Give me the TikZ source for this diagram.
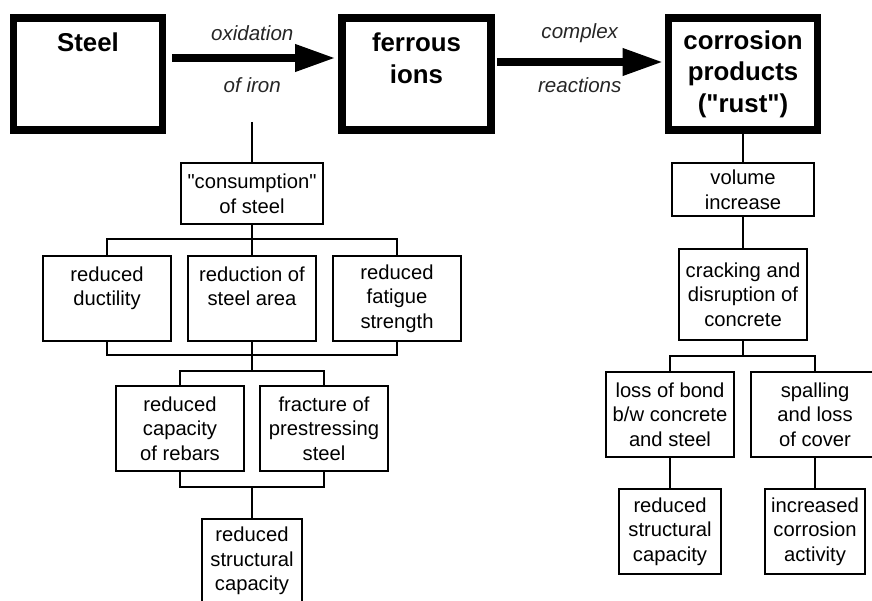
\documentclass[tikz,border=0pt]{standalone}
\usepackage{fontspec}
\setmainfont{Liberation Sans}
\usetikzlibrary{arrows.meta}

\tikzset{
  bigbox/.style={draw, line width=4.5pt, minimum width=2.98cm, minimum height=2.24cm,
    align=center, inner sep=0pt, font=\fontsize{14.7}{18}\selectfont\bfseries},
  smallbox/.style={draw, line width=1.3pt, minimum width=2.55cm, minimum height=1.69cm,
    align=center, inner sep=1pt, font=\fontsize{11.5}{14}\selectfont},
  link/.style={line width=1.3pt},
  bigarrow/.style={line width=4pt, -{Triangle[length=0.8cm,width=0.52cm]}},
  arrowtext/.style={font=\fontsize{11.7}{14}\selectfont\itshape, text=black!85}
}

\begin{document}
\begin{tikzpicture}[x=0.02cm, y=-0.02cm]
    \useasboundingbox (0,0) rectangle (872,601);

    % Top row: steel, ferrous ions, rust
    \node[bigbox] (steel) at (88,74) {Steel\\~\\~};
    \node[bigbox] (ferrous) at (416.5,74) {ferrous\\ions\\~};
    \node[bigbox] (rust) at (743,74) {corrosion\\products\\(\textquotedbl rust\textquotedbl)};

    % Reaction arrows
    \draw[bigarrow, shorten <=0.12cm, shorten >=0.06cm]
        ([yshift=0.32cm]steel.east) -- ([yshift=0.32cm]ferrous.west)
        node[arrowtext, midway, yshift=0.5cm] {oxidation}
        node[arrowtext, midway, yshift=-0.54cm] {of iron};
    \draw[bigarrow, shorten <=0.04cm, shorten >=0.04cm]
        ([yshift=0.24cm]ferrous.east) -- ([yshift=0.24cm]rust.west)
        node[arrowtext, midway, yshift=0.58cm] {complex}
        node[arrowtext, midway, yshift=-0.46cm] {reactions};

    % Left branch: loss of steel
    \coordinate (ox) at (252,122);
    \node[smallbox, minimum width=2.83cm, minimum height=1.21cm] (cons) at (252,193.5) {\textquotedbl consumption\textquotedbl\\of steel};
    \node[smallbox] (duct) at (107,298.5) {reduced\\ductility\\~};
    \node[smallbox] (area) at (252,298.5) {reduction of\\steel area\\~};
    \node[smallbox] (fatig) at (397,298.5) {reduced\\fatigue\\strength};
    \node[smallbox] (rebar) at (180,428.5) {reduced\\capacity\\of rebars};
    \node[smallbox] (prest) at (324,428.5) {fracture of\\prestressing\\steel};
    \node[smallbox, minimum width=1.99cm] (capL) at (252,561) {reduced\\structural\\capacity};

    \coordinate (j1) at (252,239);
    \coordinate (j2) at (252,355);
    \coordinate (j3) at (252,371);
    \coordinate (j4) at (252,487);

    \draw[link] (ox) -- (cons);
    \draw[link] (cons) -- (j1);
    \draw[link] (duct.north) |- (j1) -| (fatig.north);
    \draw[link] (j1) -- (area);
    \draw[link] (duct.south) |- (j2) -| (fatig.south);
    \draw[link] (area) -- (j2) -- (j3);
    \draw[link] (rebar.north) |- (j3) -| (prest.north);
    \draw[link] (rebar.south) |- (j4) -| (prest.south);
    \draw[link] (j4) -- (capL);

    % Right branch: expansion of rust
    \node[smallbox, minimum width=2.85cm, minimum height=1.05cm] (vol) at (743,189.5) {volume\\increase};
    \node[smallbox, minimum width=2.57cm, minimum height=1.81cm] (crack) at (743,294.5) {cracking and\\disruption of\\concrete};
    \node[smallbox] (bond) at (670,414.5) {loss of bond\\b/w concrete\\and steel};
    \node[smallbox] (spall) at (815,414.5) {spalling\\and loss\\of cover};
    \node[smallbox, minimum width=2.03cm] (capR) at (670,531.5) {reduced\\structural\\capacity};
    \node[smallbox, minimum width=2.01cm] (activ) at (815,531.5) {increased\\corrosion\\activity};

    \coordinate (j5) at (743,356);

    \draw[link] (rust) -- (vol);
    \draw[link] (vol) -- (crack);
    \draw[link] (crack) -- (j5);
    \draw[link] (bond.north) |- (j5) -| (spall.north);
    \draw[link] (bond) -- (capR);
    \draw[link] (spall) -- (activ);
\end{tikzpicture}
\end{document}
